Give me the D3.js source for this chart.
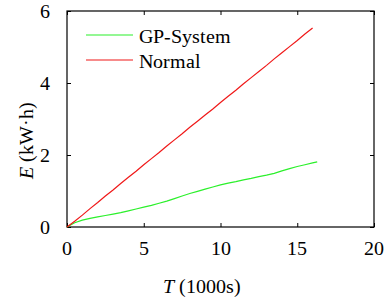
<!DOCTYPE html>
<html><head><meta charset="utf-8"><script src="https://cdn.jsdelivr.net/npm/d3@7"></script>
<style>
@font-face { font-family: "ChartSerif"; font-style: normal; src: local("Liberation Serif"), local("LiberationSerif"), local("Times New Roman"); }
@font-face { font-family: "ChartSerif"; font-style: italic; src: local("Liberation Serif Italic"), local("LiberationSerif-Italic"), local("Times New Roman Italic"); }
</style>
</head>
<body style="margin:0">
<svg id="chart" width="387" height="299"></svg>
<script>
// values, T in 1000s, E in kW·h
const normalT = [0, 0.5, 1, 1.5, 2, 2.5, 3, 3.5, 4, 4.5, 5, 5.5, 6, 6.5, 7, 7.5, 8, 8.5, 9, 9.5, 10, 10.5, 11, 11.5, 12, 12.5, 13, 13.5, 14, 14.5, 15, 15.5, 16];
const normalE = [0, 0.16, 0.33, 0.51, 0.68, 0.86, 1.03, 1.21, 1.38, 1.55, 1.73, 1.90, 2.07, 2.25, 2.42, 2.59, 2.77, 2.94, 3.11, 3.28, 3.46, 3.63, 3.80, 3.98, 4.15, 4.32, 4.49, 4.67, 4.84, 5.01, 5.18, 5.36, 5.53];
const gpT = [0, 0.5, 1, 1.5, 2, 2.5, 3, 3.5, 4, 4.5, 5, 5.5, 6, 6.5, 7, 7.5, 8, 8.5, 9, 9.5, 10, 10.5, 11, 11.5, 12, 12.5, 13, 13.5, 14, 14.5, 15, 15.5, 16, 16.3];
const gpE = [0, 0.12, 0.19, 0.24, 0.28, 0.32, 0.36, 0.40, 0.45, 0.50, 0.55, 0.60, 0.66, 0.72, 0.79, 0.86, 0.93, 0.99, 1.05, 1.11, 1.17, 1.22, 1.26, 1.31, 1.35, 1.40, 1.44, 1.49, 1.56, 1.62, 1.68, 1.73, 1.78, 1.81];
const xTicks = [0, 5, 10, 15, 20];
const yTicks = [0, 2, 4, 6];
const seriesNames = ["GP-System", "Normal"];
const seriesColors = ["#2bf02b", "#f01818"];

const fontFam = "'ChartSerif', 'Liberation Serif'";
const svg = d3.select("#chart");
const mLeft = 67, mRight = 374, mTop = 11, mBottom = 227;

const x = d3.scaleLinear().domain([0, 20]).range([mLeft, mRight]);
const y = d3.scaleLinear().domain([0, 6]).range([mBottom, mTop]);

// ticks inward on all four sides, labels drawn as plain text below
const tickLen = 4;
svg.append("g").attr("transform", "translate(0," + mBottom + ")")
	.call(d3.axisBottom(x).tickValues(xTicks).tickSizeInner(-tickLen).tickSizeOuter(0).tickFormat(""))
	.call(g => g.select(".domain").remove());
svg.append("g").attr("transform", "translate(0," + mTop + ")")
	.call(d3.axisTop(x).tickValues(xTicks).tickSizeInner(-tickLen).tickSizeOuter(0).tickFormat(""))
	.call(g => g.select(".domain").remove());
svg.append("g").attr("transform", "translate(" + mLeft + ",0)")
	.call(d3.axisLeft(y).tickValues(yTicks).tickSizeInner(-tickLen).tickSizeOuter(0).tickFormat(""))
	.call(g => g.select(".domain").remove());
svg.append("g").attr("transform", "translate(" + mRight + ",0)")
	.call(d3.axisRight(y).tickValues(yTicks).tickSizeInner(-tickLen).tickSizeOuter(0).tickFormat(""))
	.call(g => g.select(".domain").remove());

xTicks.forEach(t => {
	svg.append("text").attr("x", x(t)).attr("y", 255).attr("text-anchor", "middle")
		.style("font-family", fontFam).style("font-size", "20px").text(t);
});
yTicks.forEach(t => {
	svg.append("text").attr("x", mLeft - 17).attr("y", y(t) + 7).attr("text-anchor", "end")
		.style("font-family", fontFam).style("font-size", "20px").text(t);
});

svg.append("rect")
	.attr("x", mLeft).attr("y", mTop)
	.attr("width", mRight - mLeft).attr("height", mBottom - mTop)
	.attr("fill", "none").attr("stroke", "#000").attr("stroke-width", 1.2);

const line = d3.line().x(d => x(d[0])).y(d => y(d[1]));
const series = [
	gpT.map((t, i) => [t, gpE[i]]),
	normalT.map((t, i) => [t, normalE[i]])
];

svg.selectAll("path.series").data(series).enter().append("path")
	.attr("class", "series")
	.attr("d", line)
	.attr("fill", "none")
	.attr("stroke", (d, i) => seriesColors[i])
	.attr("stroke-width", 1.2);

// legend
seriesNames.forEach((name, i) => {
	const ly = 35 + i * 25;
	svg.append("line").attr("x1", 86).attr("x2", 133).attr("y1", ly).attr("y2", ly)
		.attr("stroke", seriesColors[i]).attr("stroke-width", 1.2);
	svg.append("text").attr("x", 139).attr("y", ly + 8)
		.style("font-family", fontFam).style("font-size", "20px").text(name);
});

// axis titles
const xt = svg.append("text").attr("x", 202).attr("y", 293).attr("text-anchor", "middle")
	.style("font-family", fontFam).style("font-size", "20px");
xt.append("tspan").style("font-style", "italic").text("T");
xt.append("tspan").text(" (1000s)");

const yt = svg.append("text").attr("transform", "translate(33,140) rotate(-90)").attr("text-anchor", "middle")
	.style("font-family", fontFam).style("font-size", "20px");
yt.append("tspan").style("font-style", "italic").text("E");
yt.append("tspan").text(" (kW·h)");
</script></body></html>
